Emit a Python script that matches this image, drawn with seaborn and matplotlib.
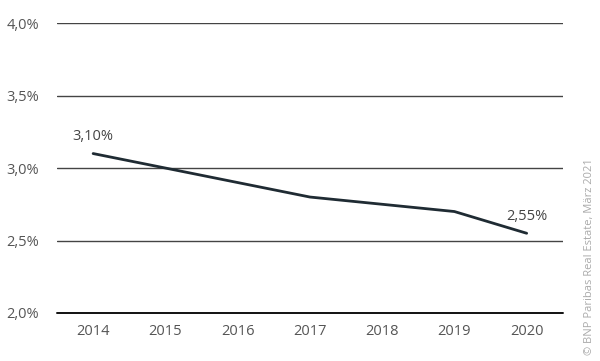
import numpy as np
import pandas as pd
import matplotlib
matplotlib.use('Agg')
import matplotlib.pyplot as plt
import seaborn as sns

years = [2014, 2015, 2016, 2017, 2018, 2019, 2020]
rates = [3.10, 3.00, 2.90, 2.80, 2.75, 2.70, 2.55]
y_ticks = [2.0, 2.5, 3.0, 3.5, 4.0]
labels = {2014: '3,10%', 2020: '2,55%'}

df = pd.DataFrame({'year': years, 'rate': rates})

sns.set_style('white')
plt.rcParams['font.family'] = ['Open Sans', 'DejaVu Sans']

fig = plt.figure(figsize=(6, 3.61), dpi=100)
ax = fig.add_axes([0.095, 0.133, 0.843, 0.803])

sns.lineplot(data=df, x='year', y='rate', ax=ax, color='#1f2b33', linewidth=2.0)

ax.set_ylim(2.0, 4.0)
ax.set_xlim(2013.5, 2020.5)
ax.set_yticks(y_ticks)
ax.set_yticklabels([f'{t:.1f}%'.replace('.', ',') for t in y_ticks])
ax.set_xticks(years)
ax.set_xticklabels([str(y) for y in years])
for t in y_ticks:
    if t == 2.0:
        ax.axhline(t, color='#111111', linewidth=1.4, zorder=0, clip_on=False)
    else:
        ax.axhline(t, color='#444444', linewidth=1.0, zorder=0)
for s in ax.spines.values():
    s.set_visible(False)
ax.set_xlabel('')
ax.set_ylabel('')
ax.tick_params(axis='both', length=0, colors='#555555', labelsize=10.5)
ax.tick_params(axis='y', pad=13)
ax.tick_params(axis='x', pad=8)

for yr, txt in labels.items():
    val = rates[years.index(yr)]
    ax.annotate(txt, (yr, val), xytext=(0, 7), textcoords='offset points',
                ha='center', va='bottom', fontsize=10.5, color='#444444')

fig.text(0.983, 0.29, '© BNP Paribas Real Estate, März 2021', rotation=90,
         ha='center', va='center', fontsize=8, color='#aaaaaa')

fig.savefig('out.png', dpi=100, facecolor='white')
